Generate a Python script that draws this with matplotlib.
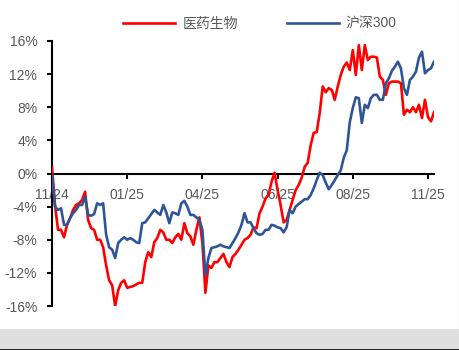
import numpy as np
import matplotlib
matplotlib.use("Agg")
import matplotlib.pyplot as plt
from matplotlib.patches import Rectangle
from matplotlib.lines import Line2D

plt.rcParams['font.family'] = ['Liberation Sans', 'Noto Sans CJK SC', 'DejaVu Sans']

series_names = ["医药生物", "沪深300"]
tick_labels = ["11/24", "01/25", "04/25", "06/25", "08/25", "11/25"]
tick_positions = [0, 25, 50, 75, 100, 125]
y_ticks = [-16, -12, -8, -4, 0, 4, 8, 12, 16]

pharma = [0.8, -3.8, -6.8, -6.8, -7.7, -6.2, -5.4, -4.4, -3.8, -3.6,
          -3.2, -2.2, -5.6, -6.6, -6.8, -8.0, -8.0, -8.9, -11.1, -12.9,
          -13.5, -16.0, -14.1, -13.2, -12.9, -13.8, -13.7, -13.6, -13.4, -13.2,
          -13.2, -10.7, -9.5, -10.1, -8.3, -7.8, -6.8, -7.1, -8.0, -8.0,
          -8.4, -7.7, -7.3, -8.0, -6.0, -7.2, -7.6, -8.6, -6.8, -5.3,
          -8.4, -14.4, -11.1, -11.4, -10.7, -10.7, -10.2, -9.7, -10.7, -11.3,
          -10.1, -9.7, -9.2, -8.6, -8.0, -7.8, -7.4, -6.5, -6.6, -4.8,
          -4.0, -3.0, -2.6, -1.0, 0.1, -2.0, -3.8, -5.9, -5.6, -4.4,
          -3.2, -2.0, -1.4, -0.5, 0.8, 1.3, 3.4, 4.9, 5.0, 7.3,
          10.5, 9.8, 10.3, 10.1, 8.9, 10.5, 11.9, 12.9, 13.4, 12.5,
          14.9, 11.9, 15.5, 12.5, 15.5, 13.7, 14.1, 14.1, 14.0, 11.7,
          11.3, 9.5, 10.9, 11.1, 11.1, 11.1, 10.9, 7.1, 7.7, 7.4,
          8.0, 7.4, 8.3, 6.7, 8.9, 6.8, 6.3, 7.4]

hs300 = [-0.2, -4.0, -4.4, -4.2, -6.2, -6.2, -5.4, -4.8, -4.4, -3.8,
         -3.8, -2.8, -5.0, -5.1, -4.9, -3.6, -3.8, -3.6, -7.4, -8.9,
         -9.2, -10.2, -8.4, -8.0, -7.7, -8.0, -7.8, -8.0, -8.3, -8.4,
         -6.0, -5.9, -5.4, -4.9, -4.4, -4.7, -5.0, -3.8, -4.7, -6.0,
         -4.7, -4.8, -5.0, -3.6, -3.3, -4.0, -5.0, -5.0, -5.3, -5.6,
         -6.8, -12.3, -10.2, -9.0, -8.9, -8.8, -8.6, -8.8, -8.9, -9.0,
         -8.4, -7.8, -7.1, -6.2, -4.8, -5.9, -5.9, -6.6, -7.2, -7.4,
         -7.3, -6.8, -6.8, -6.2, -6.3, -6.5, -6.6, -7.1, -6.5, -4.4,
         -4.8, -4.0, -3.7, -3.4, -3.1, -3.1, -2.6, -1.8, -0.8, 0.1,
         -0.2, -1.1, -1.9, -1.4, -0.8, -0.2, 0.4, 1.9, 2.8, 6.2,
         7.9, 9.2, 9.1, 6.1, 8.3, 7.9, 9.1, 9.5, 9.5, 8.9,
         8.9, 10.9, 11.5, 12.4, 12.9, 13.5, 12.7, 10.3, 9.5, 11.3,
         11.7, 12.3, 14.0, 14.7, 12.1, 12.5, 12.7, 13.5]

W, H = 460, 350
fig = plt.figure(figsize=(W / 100, H / 100), dpi=100)
fig.patch.set_facecolor('white')

# bottom grey band
fig.patches.append(Rectangle((0, 0), 1, 21 / H, transform=fig.transFigure,
                             facecolor='#dfdfdf', edgecolor='none', zorder=0))
fig.lines.append(Line2D([0, 1], [0.5 / H, 0.5 / H], transform=fig.transFigure,
                        color='black', lw=1.2))
fig.lines.append(Line2D([1 - 0.8 / W, 1 - 0.8 / W], [21 / H, 1], transform=fig.transFigure,
                        color='#d0d0d0', lw=1.0))

ax = fig.add_axes([52 / W, 44 / H, (434 - 52) / W, (306 - 41) / H])
ax.set_facecolor('none')

red = '#FF0000'
blue = '#2F5597'
ax.plot(np.arange(len(pharma)), pharma, color=red, lw=1.9, zorder=4, label=series_names[0])
ax.plot(np.arange(len(hs300)), hs300, color=blue, lw=1.9, zorder=4, label=series_names[1])

ax.set_xlim(0, len(pharma) - 1)
ax.set_ylim(-16, 16)

for s in ['top', 'right']:
    ax.spines[s].set_visible(False)
ax.spines['bottom'].set_position(('data', 0))
ax.spines['left'].set_linewidth(1.5)
ax.spines['bottom'].set_linewidth(1.5)
ax.spines['left'].set_bounds(-16, 16)

ax.set_yticks(y_ticks)
ax.set_yticklabels([f"{v}%" for v in y_ticks])
ax.set_xticks(tick_positions)
ax.set_xticklabels(tick_labels)
ax.tick_params(axis='both', direction='out', length=3.6, width=1.5, colors='black',
               labelcolor='#595959', labelsize=10, pad=7)

leg = fig.legend(loc='center', bbox_to_anchor=(260 / W, 1 - 24 / H), ncol=2, frameon=False,
                 handlelength=3.75, handletextpad=0.5, columnspacing=3.5, fontsize=10)
for t in leg.get_texts():
    t.set_color('#595959')

fig.savefig('out.png', dpi=100, facecolor='white')
